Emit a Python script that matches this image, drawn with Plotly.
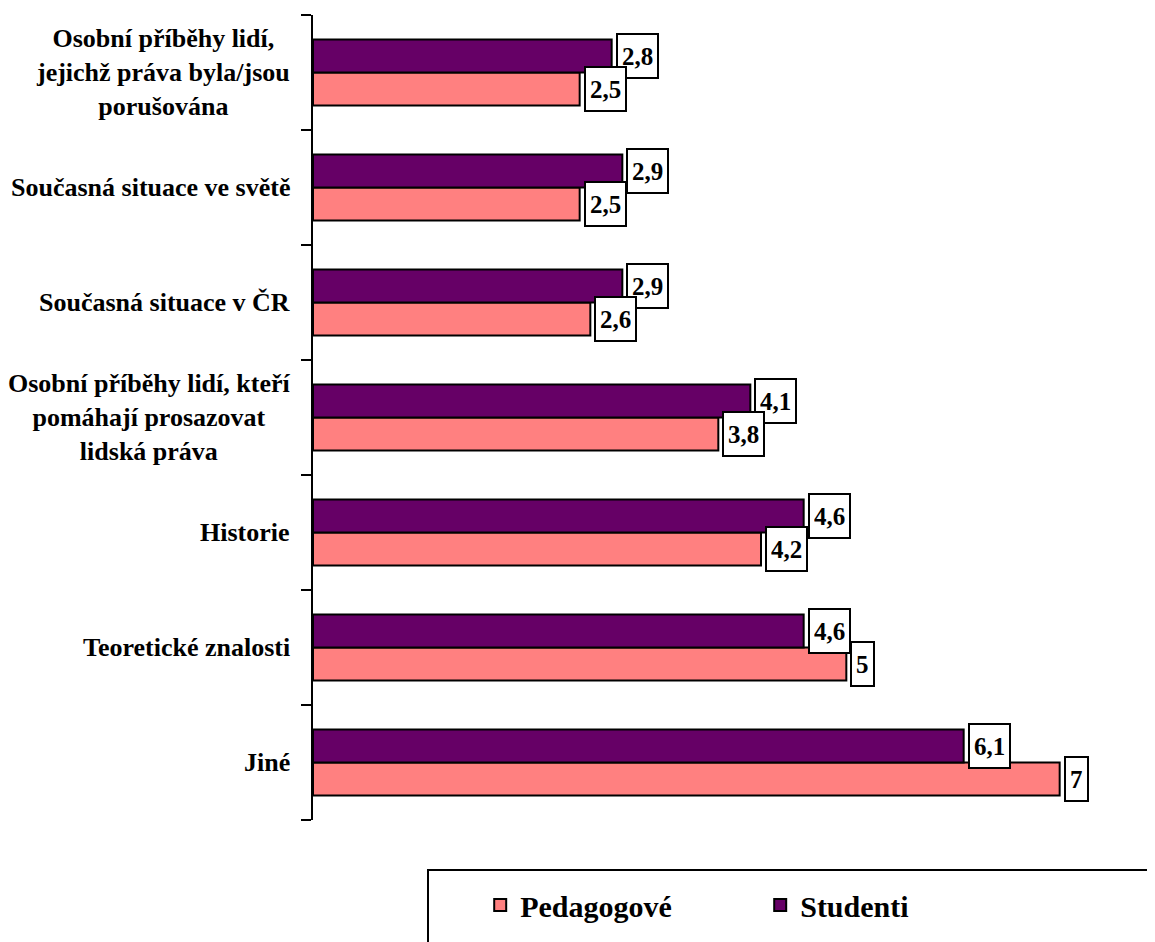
import plotly.graph_objects as go

categories = [
    "Osobní příběhy lidí,<br>jejichž práva byla/jsou<br>porušována",
    "Současná situace ve světě",
    "Současná situace v ČR",
    "Osobní příběhy lidí, kteří<br>pomáhají prosazovat<br>lidská práva",
    "Historie",
    "Teoretické znalosti",
    "Jiné",
]
studenti = [2.8, 2.9, 2.9, 4.1, 4.6, 4.6, 6.1]
pedagogove = [2.5, 2.5, 2.6, 3.8, 4.2, 5.0, 7.0]

PURPLE = "#660066"
PINK = "#FF8080"
FONT = "'Times New Roman', 'Liberation Serif', serif"


def fmt(v):
    return f"{v:g}".replace(".", ",")


fig = go.Figure()
fig.add_trace(go.Bar(
    name="Pedagogové", y=categories, x=pedagogove, orientation="h",
    marker=dict(color=PINK, line=dict(color="black", width=2)),
    hoverinfo="skip",
))
fig.add_trace(go.Bar(
    name="Studenti", y=categories, x=studenti, orientation="h",
    marker=dict(color=PURPLE, line=dict(color="black", width=2)),
    hoverinfo="skip",
))

annotations = []
for c in categories:
    annotations.append(dict(
        x=0, xref="paper", y=c, yref="y", text="<b>" + c + "</b>", showarrow=False,
        xanchor="right", yanchor="middle", xshift=-21, align="center",
        font=dict(family=FONT, size=26, color="black"),
    ))
for series, shift in ((studenti, 16.5), (pedagogove, -16.5)):
    for c, v in zip(categories, series):
        annotations.append(dict(
            x=v, xref="x", y=c, yref="y", text="<b>" + fmt(v) + "</b>", showarrow=False,
            xanchor="left", yanchor="middle", xshift=4, yshift=shift,
            height=34, valign="middle",
            bordercolor="black", borderwidth=2, borderpad=4, bgcolor="white",
            font=dict(family=FONT, size=25, color="black"),
        ))

fig.update_layout(
    width=1155, height=942,
    margin=dict(l=305, r=50, t=7, b=130),
    paper_bgcolor="white", plot_bgcolor="white",
    barmode="group", bargap=0.426, bargroupgap=0,
    showlegend=True,
    legend=dict(
        orientation="h", traceorder="normal",
        x=0.209, xanchor="left", y=-0.1056, yanchor="middle",
        font=dict(family=FONT, size=30, color="black", weight="bold"),
        entrywidth=235, entrywidthmode="pixels",
        bgcolor="rgba(0,0,0,0)",
    ),
    annotations=annotations,
    shapes=[dict(
        type="rect", xref="paper", yref="paper",
        x0=0.14375, x1=1.3, y0=-0.0621, y1=-0.35,
        line=dict(color="black", width=2), fillcolor="rgba(0,0,0,0)",
    )],
    xaxis=dict(range=[0, 7.5], visible=False),
    yaxis=dict(
        categoryorder="array", categoryarray=categories[::-1],
        range=[-0.5, 6.5],
        showticklabels=False, showgrid=False, zeroline=False,
        showline=True, linecolor="black", linewidth=2,
        ticks="outside", tickson="boundaries", ticklen=10, tickwidth=2,
        tickcolor="black",
    ),
)

fig.write_html("out.html")
